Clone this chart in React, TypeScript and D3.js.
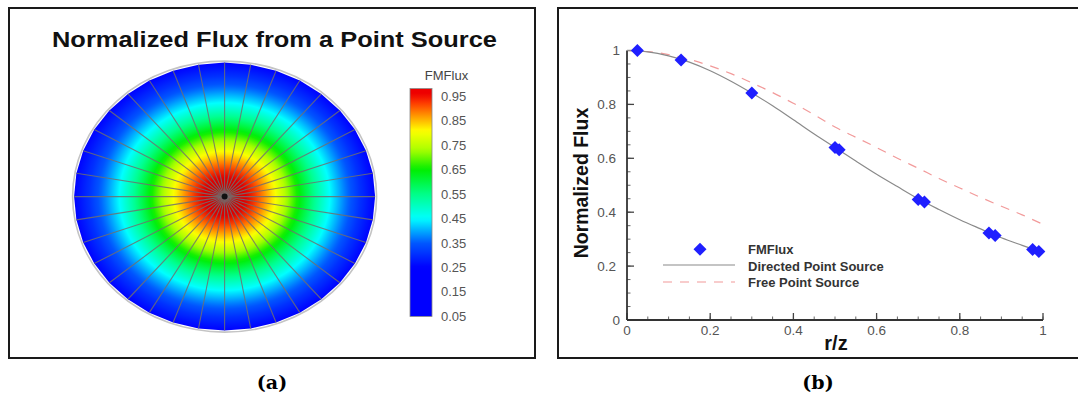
import React from "react";
import * as d3 from "d3";

// ---------- data ----------
// colour map of panel (a): value -> colour stops
const cmapValues = [0.05, 0.25, 0.35, 0.45, 0.55, 0.65, 0.73, 0.81, 0.87, 0.92, 0.96];
const cmapColors = ["#0000ff", "#0000ff", "#0058ff", "#00ffff", "#00ff88", "#00ee00", "#a8ff00", "#ffff00", "#ff9800", "#ff4000", "#ee0000"];
const colorbarTicks = [0.05, 0.15, 0.25, 0.35, 0.45, 0.55, 0.65, 0.75, 0.85, 0.95];
const spokeAnglesDeg = d3.range(0, 360, 10);

// panel (b)
const curveX = [0, 0.05, 0.1, 0.15, 0.2, 0.25, 0.3, 0.35, 0.4, 0.45, 0.5, 0.55, 0.6, 0.65, 0.7, 0.75, 0.8, 0.85, 0.9, 0.95, 1.0];
const directedY = [1.0, 0.995, 0.98, 0.957, 0.925, 0.886, 0.842, 0.795, 0.743, 0.69, 0.64, 0.59, 0.541, 0.495, 0.45, 0.41, 0.372, 0.338, 0.305, 0.277, 0.25];
const freeY = [1.0, 0.996, 0.985, 0.967, 0.943, 0.914, 0.88, 0.844, 0.804, 0.762, 0.716, 0.678, 0.64, 0.6, 0.563, 0.525, 0.49, 0.455, 0.422, 0.39, 0.355];
const fmX = [0.025, 0.13, 0.3, 0.5, 0.51, 0.7, 0.715, 0.87, 0.885, 0.975, 0.99];
const fmY = [1.0, 0.965, 0.842, 0.64, 0.632, 0.447, 0.438, 0.323, 0.314, 0.262, 0.254];
const xMajor = [0, 0.2, 0.4, 0.6, 0.8, 1];
const yMajor = [0, 0.2, 0.4, 0.6, 0.8, 1];
const minorTicks = d3.range(0, 1.0001, 0.05);
const legendItems = ["FMFlux", "Directed Point Source", "Free Point Source"];

const SANS = "'Liberation Sans', Arial, Helvetica, sans-serif";
const SERIF = "'DejaVu Serif', 'Liberation Serif', serif";

export default function App() {
  const cmap = d3.scaleLinear<string>().domain(cmapValues).range(cmapColors).interpolate(d3.interpolateRgb).clamp(true);

  // ---- panel (a) geometry ----
  const cx = 224.6, cy = 196.6, rx = 150.5, ry = 134;
  const verts = spokeAnglesDeg.map((a) => {
    const t = (a * Math.PI) / 180;
    return [cx + rx * Math.cos(t), cy - ry * Math.sin(t)];
  });
  const polyPts = verts.map((p) => p.join(",")).join(" ");
  // radial colour: r/z along radius -> directed flux value
  const fluxAt = d3.scaleLinear().domain(curveX).range(directedY);
  const radialStops = d3.range(0, 1.0001, 0.02).map((r) => ({ off: r, col: cmap(fluxAt(r)) }));

  // colour bar
  const cb = d3.scaleLinear().domain([0.05, 0.95]).range([316.4, 96.4]);
  const cbTop = cb(0.982), cbBot = cb(0.05);
  const cbStops = d3.range(0, 1.0001, 0.02).map((t) => {
    const v = 0.05 + t * (0.982 - 0.05);
    return { off: t, col: cmap(v) };
  });

  // ---- panel (b) ----
  const x = d3.scaleLinear().domain([0, 1]).range([627, 1043]);
  const y = d3.scaleLinear().domain([0, 1]).range([320, 50.5]);
  const line = d3.line<number>().x((_, i) => x(curveX[i])).y((d) => y(d)).curve(d3.curveMonotoneX);
  const diamond = (px: number, py: number, w: number, h: number) =>
    `M${px},${py - h / 2}L${px + w / 2},${py}L${px},${py + h / 2}L${px - w / 2},${py}Z`;
  const blue = "#1f1fff";

  return (
    <svg width={1078} height={402} style={{ position: "absolute", left: 0, top: 0, background: "#fff" }}>
      <defs>
        <radialGradient id="disk" cx="0.5" cy="0.5" r="0.5" fx="0.5" fy="0.5" gradientUnits="objectBoundingBox">
          {radialStops.map((s, i) => (
            <stop key={i} offset={s.off} stopColor={s.col} />
          ))}
        </radialGradient>
        <radialGradient id="shade" cx="0.5" cy="0.5" r="0.5" gradientUnits="objectBoundingBox">
          <stop offset={0} stopColor="#000" stopOpacity={0.25} />
          <stop offset={0.12} stopColor="#000" stopOpacity={0.08} />
          <stop offset={0.25} stopColor="#000" stopOpacity={0} />
        </radialGradient>
        <linearGradient id="cbar" x1="0" y1="1" x2="0" y2="0">
          {cbStops.map((s, i) => (
            <stop key={i} offset={s.off} stopColor={s.col} />
          ))}
        </linearGradient>
      </defs>

      {/* ---------- panel (a) ---------- */}
      <rect x={9} y={8} width={526} height={350} fill="#fff" stroke="#1a1a1a" strokeWidth={2} />
      <text x={274.5} y={46.5} textAnchor="middle" fontFamily={SANS} fontWeight="bold" fontSize={22} textLength={445} lengthAdjust="spacingAndGlyphs" fill="#111">
        Normalized Flux from a Point Source
      </text>
      <ellipse cx={cx} cy={cy} rx={rx + 1.5} ry={ry + 1.5} fill="none" stroke="#c4c4c4" strokeWidth={1.6} />
      <polygon points={polyPts} fill="url(#disk)" />
      <polygon points={polyPts} fill="url(#shade)" />
      {verts.map((p, i) => (
        <line key={i} x1={cx} y1={cy} x2={p[0]} y2={p[1]} stroke="#707070" strokeWidth={1.1} strokeOpacity={0.85} />
      ))}
      <circle cx={cx} cy={cy} r={3} fill="#111" />

      <text x={446.5} y={80} textAnchor="middle" fontFamily={SANS} fontSize={13} fill="#444">FMFlux</text>
      <rect x={410} y={cbTop} width={22} height={cbBot - cbTop} fill="url(#cbar)" stroke="#888" strokeWidth={0.8} />
      {colorbarTicks.map((t) => (
        <text key={t} x={441} y={cb(t) + 4.5} fontFamily={SANS} fontSize={13} fill="#555">
          {t.toFixed(2)}
        </text>
      ))}
      <text x={272} y={389} textAnchor="middle" fontFamily={SERIF} fontWeight="bold" fontSize={19}>(a)</text>

      {/* ---------- panel (b) ---------- */}
      <rect x={558} y={8} width={540} height={350} fill="#fff" stroke="#1a1a1a" strokeWidth={2} />
      {/* minor ticks */}
      {minorTicks.map((t, i) => (
        <g key={i}>
          <line x1={x(t)} x2={x(t)} y1={y(0)} y2={y(0) - 3.5} stroke="#666" strokeWidth={1} />
          <line x1={x(0)} x2={x(0) + 3.5} y1={y(t)} y2={y(t)} stroke="#666" strokeWidth={1} />
        </g>
      ))}
      {xMajor.map((t) => (
        <g key={"x" + t}>
          <line x1={x(t)} x2={x(t)} y1={y(0)} y2={y(0) - 7} stroke="#444" strokeWidth={1.3} />
          <text x={x(t)} y={334.5} textAnchor="middle" fontFamily={SANS} fontSize={13.5} fill="#555">
            {d3.format("~g")(t)}
          </text>
        </g>
      ))}
      {yMajor.map((t) => (
        <g key={"y" + t}>
          <line x1={x(0)} x2={x(0) + 7} y1={y(t)} y2={y(t)} stroke="#444" strokeWidth={1.3} />
          <text x={t === 0 || t === 1 ? 620 : 616} y={y(t) + 4.6} textAnchor="end" fontFamily={SANS} fontSize={13.5} fill="#555">
            {d3.format("~g")(t)}
          </text>
        </g>
      ))}
      <line x1={x(0)} x2={x(1)} y1={y(0)} y2={y(0)} stroke="#333" strokeWidth={1.8} />
      <line x1={x(0)} x2={x(0)} y1={y(0)} y2={y(1)} stroke="#333" strokeWidth={1.8} />

      <path d={line(freeY) || ""} fill="none" stroke="#f29a9a" strokeWidth={1.2} strokeDasharray="9,8" />
      <path d={line(directedY) || ""} fill="none" stroke="#8a8a8a" strokeWidth={1.2} />
      {fmX.map((v, i) => (
        <path key={i} d={diamond(x(v), y(fmY[i]), 13, 13)} fill={blue} />
      ))}

      {/* legend */}
      <path d={diamond(700, 249.3, 13, 13)} fill={blue} />
      <line x1={663} x2={735} y1={265} y2={265} stroke="#8a8a8a" strokeWidth={1.2} />
      <line x1={663} x2={735} y1={282} y2={282} stroke="#f29a9a" strokeWidth={1.2} strokeDasharray="9,8" />
      {legendItems.map((s, i) => (
        <text key={s} x={748} y={254 + i * 16.5} fontFamily={SANS} fontWeight="bold" fontSize={13} fill="#333">
          {s}
        </text>
      ))}

      <text transform={`translate(588,${183}) rotate(-90)`} textAnchor="middle" fontFamily={SANS} fontWeight="bold" fontSize={19.5} fill="#111">
        Normalized Flux
      </text>
      <text x={836} y={350} textAnchor="middle" fontFamily={SANS} fontWeight="bold" fontSize={20} fill="#111">r/z</text>
      <text x={818} y={389} textAnchor="middle" fontFamily={SERIF} fontWeight="bold" fontSize={19}>(b)</text>
    </svg>
  );
}
